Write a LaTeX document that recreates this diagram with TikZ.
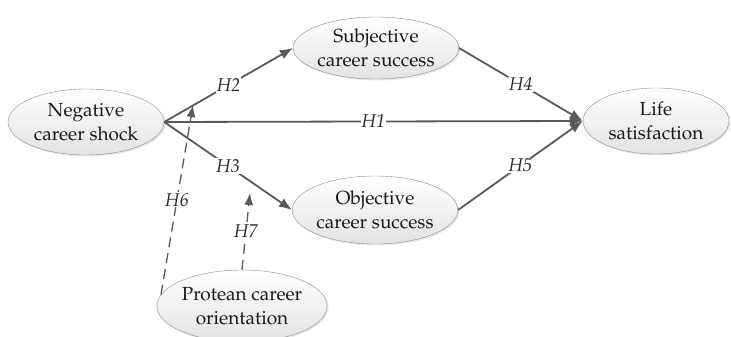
\documentclass[tikz,border=0pt]{standalone}
\usepackage[T1]{fontenc}
\usepackage{mathpazo}
\usepackage{xcolor}
\usepackage{tikz}
\usetikzlibrary{arrows.meta}
\usetikzlibrary{shapes.geometric}
\usetikzlibrary{shadows}
\definecolor{linegray}{HTML}{595959}
\definecolor{bordergray}{HTML}{8C8C8C}
\tikzset{
    cnode/.style = {ellipse, align=center, inner sep=0pt, draw=bordergray, thin,
                    top color=white, bottom color=black!11, text=black!90,
                    minimum width=158pt, minimum height=64pt,
                    font=\fontsize{19}{24}\selectfont,
                    drop shadow={opacity=0.18, shadow xshift=1.5pt, shadow yshift=-1.5pt}},
    path_line/.style = {draw=linegray, line width=1.8pt, -{Latex[length=13pt, width=10pt]}},
    mod_line/.style = {draw=linegray, line width=1.3pt, dash pattern=on 10pt off 6pt,
                       -{Latex[length=12pt, width=9pt]}},
    hlabel/.style = {fill=white, inner sep=1pt, text=black!85,
                     font=\fontsize{18.5}{20}\selectfont\itshape}
}
\begin{document}
\begin{tikzpicture}[x=1pt, y=-1pt]
    \useasboundingbox (0,0) rectangle (731,337);
    \node [cnode, minimum width=156pt, minimum height=66pt] (shock) at (86,122) {Negative\\career shock};
    \node [cnode, minimum width=162pt, minimum height=62pt] (subj) at (376,48) {Subjective\\career success};
    \node [cnode, minimum width=160pt, minimum height=68pt] (obj) at (375,210) {Objective\\career success};
    \node [cnode, minimum width=146pt, minimum height=66pt] (life) at (656,121) {Life\\satisfaction};
    \node [cnode, minimum width=159pt, minimum height=72pt] (pco) at (242,306) {Protean career\\orientation};
    \coordinate (h6tip) at (193,105);
    \coordinate (h7tip) at (250,193);

    \draw [path_line] (shock.east) -- (life.west) node [hlabel, midway] {H1};
    \draw [path_line] (shock.east) -- (subj.west) node [hlabel, midway] {H2};
    \draw [path_line] (shock.east) -- (obj.west) node [hlabel, midway] {H3};
    \draw [path_line] (subj.east) -- (life.west) node [hlabel, midway] {H4};
    \draw [path_line] (obj.east) -- (life.west) node [hlabel, midway] {H5};
    \draw [mod_line] (pco.172) -- (h6tip) node [hlabel, midway] {H6};
    \draw [mod_line] (pco.north) -- (h7tip) node [hlabel, midway] {H7};
\end{tikzpicture}
\end{document}
